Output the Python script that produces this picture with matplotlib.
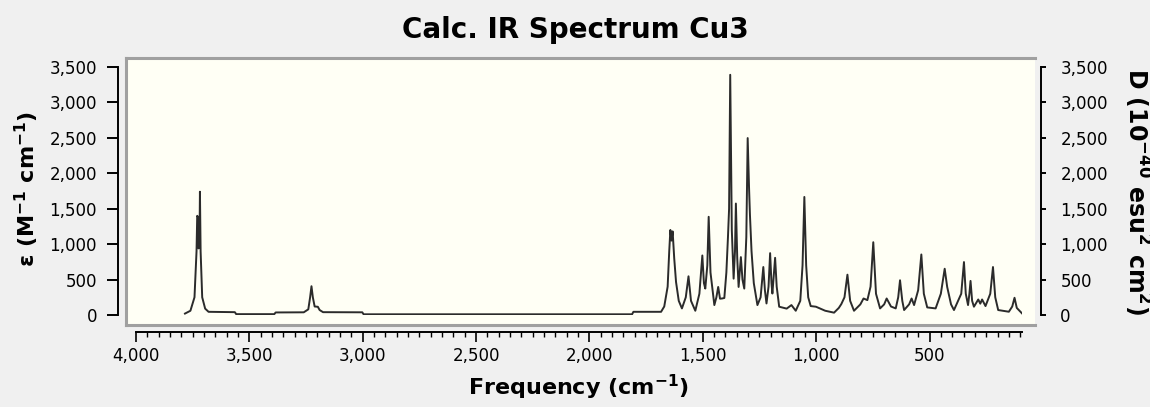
import matplotlib
matplotlib.use("Agg")
import matplotlib.pyplot as plt
from matplotlib.ticker import FuncFormatter, MultipleLocator

# Spectrum: frequency (cm-1) and epsilon (M-1 cm-1)
freq = [3784, 3760, 3742, 3733, 3730, 3726, 3724, 3720, 3718, 3715, 3708, 3695, 3680,
        3564, 3558, 3390, 3384, 3260, 3240, 3232, 3226, 3220, 3212, 3198, 3190, 3175,
        3002, 2996, 1812, 1806, 1684, 1670, 1655, 1648, 1643, 1638, 1633, 1626, 1618,
        1606, 1592, 1575, 1563, 1552, 1533, 1515, 1502, 1495, 1489, 1480, 1474, 1466,
        1449, 1440, 1432, 1424, 1415, 1405, 1396, 1389, 1384, 1379, 1372, 1364, 1358,
        1354, 1348, 1342, 1332, 1325, 1317, 1308, 1302, 1296, 1292, 1285, 1275, 1259,
        1245, 1233, 1226, 1219, 1210, 1203, 1197, 1193, 1181, 1174, 1163, 1130, 1109,
        1090, 1070, 1060, 1052, 1044, 1035, 1024, 1001, 960, 921, 900, 889, 875, 862,
        850, 833, 805, 791, 774, 760, 748, 736, 718, 700, 689, 670, 649, 638, 630, 620,
        612, 590, 579, 568, 550, 536, 525, 510, 473, 450, 433, 422, 405, 392, 360, 348,
        340, 330, 324, 319, 312, 304, 285, 276, 268, 253, 232, 220, 210, 197, 150, 135,
        125, 115, 92]
eps = [20, 60, 250, 900, 1400, 1380, 940, 1000, 1740, 900, 250, 90, 45,
       40, 12, 12, 36, 38, 80, 250, 406, 250, 120, 116, 70, 40,
       38, 10, 10, 45, 45, 120, 400, 900, 1200, 1050, 1180, 800, 466,
       200, 93, 250, 546, 200, 60, 300, 840, 450, 373, 700, 1386, 600,
       140, 250, 396, 230, 233, 240, 600, 1096, 1500, 3390, 1200, 513, 900,
       1573, 800, 396, 817, 500, 373, 1100, 2497, 1800, 1414, 900, 450, 140,
       250, 677, 350, 163, 400, 873, 450, 303, 807, 400, 117, 90, 140,
       60, 200, 700, 1666, 700, 250, 126, 117, 60, 33, 100, 154, 250, 569,
       200, 60, 150, 233, 210, 400, 1027, 300, 93, 150, 233, 120, 93, 250, 490, 200,
       70, 150, 233, 140, 350, 854, 300, 107, 93, 300, 653, 396, 150, 70, 300, 747,
       300, 140, 300, 481, 200, 117, 219, 160, 219, 126, 300, 677, 250, 70, 46, 120,
       243, 100, 23]

x_ticks = [4000, 3500, 3000, 2500, 2000, 1500, 1000, 500]
y_ticks = [0, 500, 1000, 1500, 2000, 2500, 3000, 3500]

plt.rcParams['font.family'] = 'DejaVu Sans'
plt.rcParams['mathtext.default'] = 'bf'

W, H = 1150, 407
fig = plt.figure(figsize=(W / 100, H / 100), dpi=100, facecolor='#f0f0f0')

def box(x0, y0, x1, y1):
    # pixel box (top-left origin) -> figure fraction rect
    return [x0 / W, 1 - y1 / H, (x1 - x0) / W, (y1 - y0) / H]

# pale plot panel
bg = fig.add_axes(box(126, 58, 1035, 325))
bg.set_facecolor('#fffff5')
bg.set_xticks([])
bg.set_yticks([])
for side in ['top', 'left', 'bottom']:
    bg.spines[side].set_color('#a0a0a0')
    bg.spines[side].set_linewidth(2.2)
bg.spines['right'].set_visible(False)

ax = fig.add_axes(box(136, 67, 1022, 315))
ax.patch.set_visible(False)
ax.plot(freq, eps, color='#2b2b2b', lw=1.4)
ax.set_xlim(4000, 92)
ax.set_ylim(0, 3500)

fmt = FuncFormatter(lambda v, p: f'{v:,.0f}')
ax.set_xticks(x_ticks)
ax.xaxis.set_minor_locator(MultipleLocator(50))
ax.set_yticks(y_ticks)
ax.xaxis.set_major_formatter(fmt)
ax.yaxis.set_major_formatter(fmt)

ax.spines['top'].set_visible(False)
ax.spines['right'].set_visible(False)
ax.spines['left'].set_position(('outward', 13))
ax.spines['bottom'].set_position(('outward', 12))
for side in ['left', 'bottom']:
    ax.spines[side].set_linewidth(1.4)

ax.tick_params(axis='y', which='major', direction='out', length=8, width=1.4,
               labelsize=12, pad=7)
ax.tick_params(axis='x', which='major', direction='out', length=7, width=1.2,
               labelsize=12, pad=4)
ax.tick_params(axis='x', which='minor', direction='out', length=3.5, width=1.0)

ax2 = ax.twinx()
ax2.set_ylim(0, 3500)
ax2.set_yticks(y_ticks)
ax2.yaxis.set_major_formatter(fmt)
for side in ['top', 'left', 'bottom']:
    ax2.spines[side].set_visible(False)
ax2.spines['right'].set_position(('outward', 14))
ax2.spines['right'].set_linewidth(1.4)
ax2.tick_params(axis='y', direction='out', length=3.6, width=1.4, labelsize=12, pad=10)

ax.set_xlabel('Frequency (cm$^{-1}$)', fontsize=16, fontweight='bold')
ax.xaxis.set_label_coords(0.499, -0.234)
ax.set_ylabel('ε (M$^{-1}$ cm$^{-1}$)', fontsize=16, fontweight='bold')
ax.yaxis.set_label_coords(-0.107, 0.51)
ax2.set_ylabel('D (10$^{-40}$ esu$^{2}$ cm$^{2}$)', fontsize=17, fontweight='bold',
               rotation=270, va='center')
ax2.yaxis.set_label_coords(1.13, 0.5)

fig.text(0.5, 1 - 38 / H, 'Calc. IR Spectrum Cu3', ha='center', va='baseline',
         fontsize=20, fontweight='bold')

fig.savefig('out.png', dpi=100, facecolor=fig.get_facecolor())
